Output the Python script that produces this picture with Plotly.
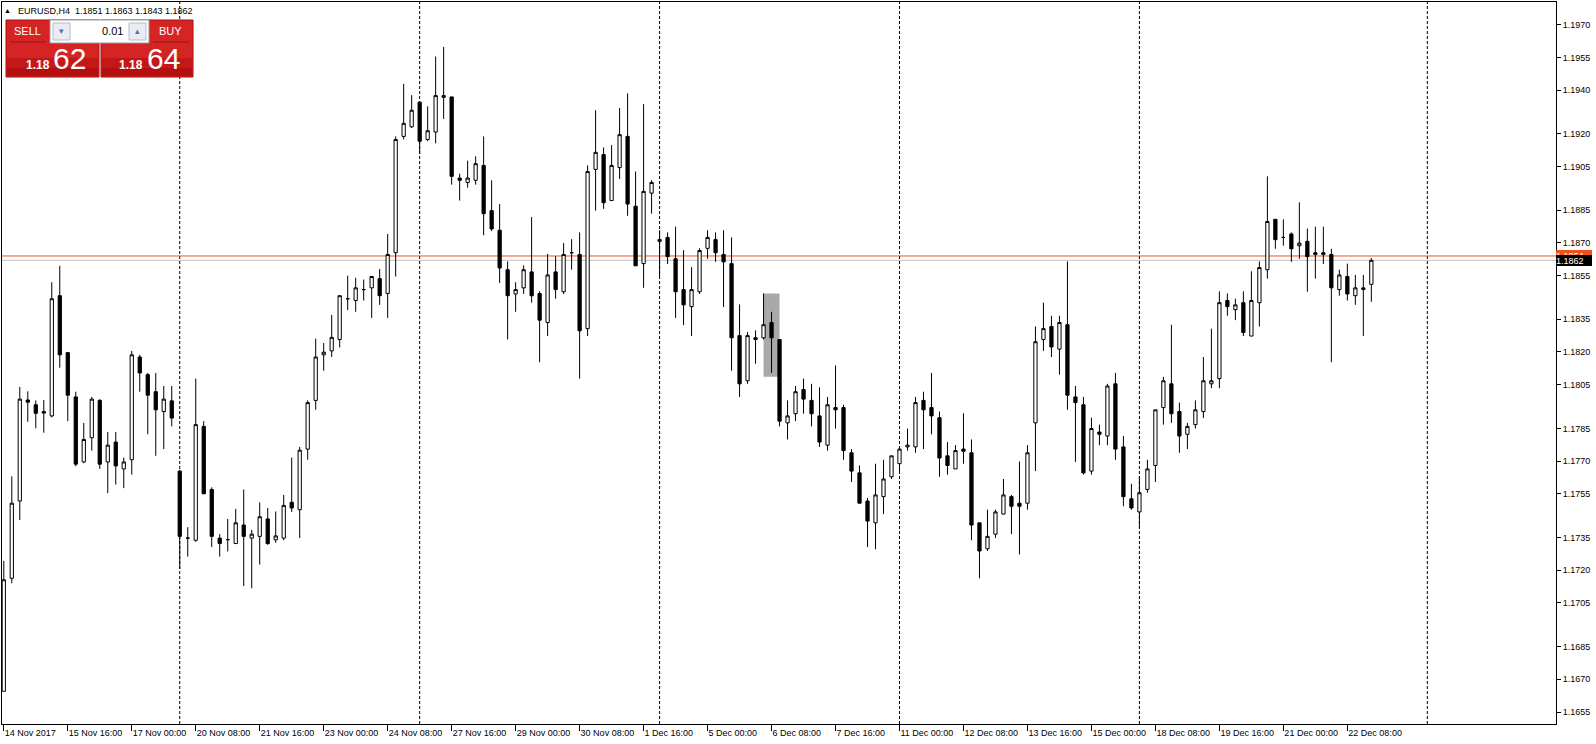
import plotly.graph_objects as go

# ---------------- data (EURUSD H4) ----------------
opens = [1.16645, 1.17163, 1.17517, 1.17980, 1.17958, 1.17927, 1.17907, 1.18458, 1.18197, 1.17994,
         1.17696, 1.17807, 1.17978, 1.17696, 1.17787, 1.17664, 1.17706, 1.18177, 1.18096, 1.18018,
         1.17927, 1.17976, 1.17654, 1.17347, 1.17337, 1.17859, 1.17570, 1.17347, 1.17340, 1.17322,
         1.17407, 1.17347, 1.17355, 1.17435, 1.17339, 1.17347, 1.17511, 1.17477, 1.17755, 1.17978,
         1.18187, 1.18205, 1.18257, 1.18444, 1.18436, 1.18486, 1.18494, 1.18536, 1.18468, 1.18655,
         1.19188, 1.19232, 1.19345, 1.19174, 1.19208, 1.19367, 1.19369, 1.18997, 1.18977, 1.18987,
         1.19055, 1.18848, 1.18758, 1.18577, 1.18466, 1.18494, 1.18567, 1.18468, 1.18335, 1.18567,
         1.18476, 1.18655, 1.18647, 1.18307, 1.19037, 1.19105, 1.18894, 1.19045, 1.19188, 1.18868,
         1.18605, 1.18928, 1.18707, 1.18725, 1.18627, 1.18486, 1.18408, 1.18476, 1.18675, 1.18715,
         1.18647, 1.18605, 1.18275, 1.18068, 1.18265, 1.18265, 1.18335, 1.18257, 1.17875, 1.17917,
         1.18028, 1.17978, 1.17907, 1.17773, 1.17945, 1.17945, 1.17738, 1.17646, 1.17517, 1.17417,
         1.17537, 1.17628, 1.17688, 1.17765, 1.17765, 1.17978, 1.17945, 1.17899, 1.17724, 1.17664,
         1.17755, 1.17738, 1.17417, 1.17298, 1.17365, 1.17457, 1.17537, 1.17507, 1.17507, 1.17875,
         1.18257, 1.18317, 1.18213, 1.18325, 1.17994, 1.17958, 1.17654, 1.17833, 1.17815, 1.18054,
         1.17765, 1.17527, 1.17467, 1.17570, 1.17680, 1.17945, 1.18054, 1.17927, 1.17823, 1.17867,
         1.17927, 1.18054, 1.18078, 1.18436, 1.18394, 1.18426, 1.18273, 1.18426, 1.18577, 1.18808,
         1.18725, 1.18741, 1.18687, 1.18707, 1.18647, 1.18647, 1.18647, 1.18486, 1.18546, 1.18458,
         1.18486, 1.18510]
highs = [1.17242, 1.17630, 1.18040, 1.18020, 1.17978, 1.17980, 1.18520, 1.18595, 1.18200, 1.18018,
         1.17875, 1.17994, 1.17984, 1.17833, 1.17833, 1.17716, 1.18205, 1.18187, 1.18104, 1.18104,
         1.18044, 1.18044, 1.17660, 1.17397, 1.18078, 1.17883, 1.17580, 1.17365, 1.17435, 1.17481,
         1.17570, 1.17385, 1.17511, 1.17485, 1.17469, 1.17545, 1.17716, 1.17765, 1.17978, 1.18261,
         1.18241, 1.18370, 1.18460, 1.18550, 1.18540, 1.18532, 1.18546, 1.18580, 1.18741, 1.19188,
         1.19429, 1.19377, 1.19345, 1.19326, 1.19554, 1.19598, 1.19369, 1.19017, 1.19077, 1.19097,
         1.19188, 1.18987, 1.18878, 1.18615, 1.18520, 1.18597, 1.18818, 1.18478, 1.18649, 1.18639,
         1.18699, 1.18717, 1.18748, 1.19055, 1.19308, 1.19137, 1.19148, 1.19318, 1.19385, 1.19027,
         1.19336, 1.18987, 1.18758, 1.18748, 1.18774, 1.18667, 1.18589, 1.18675, 1.18758, 1.18748,
         1.18758, 1.18725, 1.18418, 1.18291, 1.18299, 1.18468, 1.18384, 1.18257, 1.17978, 1.18044,
         1.18078, 1.18054, 1.18038, 1.17994, 1.18138, 1.17958, 1.17755, 1.17680, 1.17531, 1.17688,
         1.17706, 1.17724, 1.17765, 1.17849, 1.17994, 1.18018, 1.18104, 1.17927, 1.17787, 1.17773,
         1.17919, 1.17799, 1.17417, 1.17477, 1.17477, 1.17618, 1.17545, 1.17698, 1.17773, 1.18317,
         1.18426, 1.18366, 1.18366, 1.18615, 1.18044, 1.17994, 1.17899, 1.17867, 1.18054, 1.18104,
         1.17815, 1.17596, 1.17628, 1.17706, 1.17935, 1.18086, 1.18325, 1.17968, 1.17875, 1.17978,
         1.18177, 1.18307, 1.18478, 1.18468, 1.18444, 1.18478, 1.18570, 1.18615, 1.19005, 1.18808,
         1.18808, 1.18748, 1.18886, 1.18766, 1.18774, 1.18774, 1.18673, 1.18577, 1.18605, 1.18553,
         1.18553, 1.18630]
lows = [1.16645, 1.17140, 1.17430, 1.17880, 1.17850, 1.17830, 1.17900, 1.18128, 1.17883, 1.17676,
        1.17690, 1.17748, 1.17664, 1.17553, 1.17592, 1.17576, 1.17638, 1.18018, 1.17823, 1.17724,
        1.17755, 1.17859, 1.17206, 1.17262, 1.17330, 1.17550, 1.17306, 1.17262, 1.17286, 1.17320,
        1.17127, 1.17117, 1.17226, 1.17316, 1.17326, 1.17337, 1.17467, 1.17347, 1.17706, 1.17935,
        1.18114, 1.18177, 1.18221, 1.18392, 1.18384, 1.18436, 1.18356, 1.18416, 1.18356, 1.18546,
        1.19174, 1.19226, 1.19107, 1.19166, 1.19156, 1.19268, 1.18967, 1.18894, 1.18953, 1.18967,
        1.18735, 1.18754, 1.18516, 1.18257, 1.18384, 1.18466, 1.18426, 1.18153, 1.18273, 1.18444,
        1.18466, 1.18577, 1.18078, 1.18273, 1.18848, 1.18856, 1.18894, 1.18993, 1.18824, 1.18595,
        1.18494, 1.18834, 1.18546, 1.18603, 1.18356, 1.18323, 1.18273, 1.18466, 1.18627, 1.18613,
        1.18406, 1.18114, 1.17994, 1.18054, 1.18146, 1.18257, 1.18104, 1.17859, 1.17799, 1.17883,
        1.17917, 1.17859, 1.17765, 1.17748, 1.17849, 1.17706, 1.17604, 1.17507, 1.17306, 1.17296,
        1.17457, 1.17618, 1.17646, 1.17748, 1.17738, 1.17755, 1.17823, 1.17628, 1.17638, 1.17664,
        1.17688, 1.17337, 1.17163, 1.17288, 1.17347, 1.17457, 1.17365, 1.17272, 1.17477, 1.17654,
        1.18205, 1.18177, 1.18096, 1.17935, 1.17696, 1.17638, 1.17638, 1.17773, 1.17773, 1.17706,
        1.17493, 1.17477, 1.17397, 1.17555, 1.17604, 1.17867, 1.17875, 1.17738, 1.17755, 1.17849,
        1.17897, 1.18034, 1.18034, 1.18366, 1.18346, 1.18273, 1.18273, 1.18317, 1.18536, 1.18673,
        1.18687, 1.18613, 1.18627, 1.18476, 1.18536, 1.18603, 1.18153, 1.18458, 1.18436, 1.18416,
        1.18273, 1.18430]
closes = [1.17156, 1.17507, 1.17984, 1.17970, 1.17919, 1.17920, 1.18444, 1.18187, 1.18002, 1.17686,
          1.17799, 1.17984, 1.17686, 1.17773, 1.17678, 1.17696, 1.18187, 1.18104, 1.18002, 1.17935,
          1.17984, 1.17897, 1.17355, 1.17347, 1.17867, 1.17550, 1.17355, 1.17322, 1.17340, 1.17417,
          1.17355, 1.17365, 1.17445, 1.17322, 1.17357, 1.17497, 1.17485, 1.17750, 1.17968, 1.18177,
          1.18199, 1.18267, 1.18458, 1.18444, 1.18494, 1.18486, 1.18546, 1.18458, 1.18647, 1.19174,
          1.19248, 1.19308, 1.19166, 1.19214, 1.19375, 1.19375, 1.19005, 1.18987, 1.18997, 1.19063,
          1.18834, 1.18764, 1.18585, 1.18458, 1.18486, 1.18577, 1.18458, 1.18346, 1.18553, 1.18486,
          1.18647, 1.18655, 1.18297, 1.19027, 1.19115, 1.18884, 1.19055, 1.19196, 1.18878, 1.18595,
          1.18936, 1.18977, 1.18715, 1.18637, 1.18476, 1.18416, 1.18486, 1.18665, 1.18725, 1.18655,
          1.18613, 1.18265, 1.18054, 1.18275, 1.18257, 1.18325, 1.18265, 1.17883, 1.17907, 1.18018,
          1.17984, 1.17917, 1.17787, 1.17958, 1.17935, 1.17748, 1.17654, 1.17507, 1.17425, 1.17545,
          1.17618, 1.17724, 1.17755, 1.17773, 1.17968, 1.17935, 1.17907, 1.17714, 1.17680, 1.17748,
          1.17745, 1.17407, 1.17288, 1.17355, 1.17467, 1.17545, 1.17493, 1.17493, 1.17738, 1.18247,
          1.18307, 1.18223, 1.18335, 1.18002, 1.17968, 1.17646, 1.17849, 1.17823, 1.18044, 1.17755,
          1.17537, 1.17485, 1.17555, 1.17664, 1.17935, 1.18068, 1.17917, 1.17815, 1.17859, 1.17935,
          1.18068, 1.18068, 1.18426, 1.18408, 1.18416, 1.18289, 1.18436, 1.18587, 1.18798, 1.18715,
          1.18725, 1.18673, 1.18699, 1.18637, 1.18655, 1.18655, 1.18494, 1.18553, 1.18466, 1.18494,
          1.18494, 1.18620]
bars = list(range(len(opens)))

x_tick_bars = [0, 8, 16, 24, 32, 40, 48, 56, 64, 72, 80, 88, 96, 104, 112, 120, 128, 136, 144, 152, 160, 168]
x_tick_text = ["14 Nov 2017", "15 Nov 16:00", "17 Nov 00:00", "20 Nov 08:00", "21 Nov 16:00",
               "23 Nov 00:00", "24 Nov 08:00", "27 Nov 16:00", "29 Nov 00:00", "30 Nov 08:00",
               "1 Dec 16:00", "5 Dec 00:00", "6 Dec 08:00", "7 Dec 16:00", "11 Dec 00:00",
               "12 Dec 08:00", "13 Dec 16:00", "15 Dec 00:00", "18 Dec 08:00", "19 Dec 16:00",
               "21 Dec 00:00", "22 Dec 08:00"]
y_tick_vals = [1.1970, 1.1955, 1.1940, 1.1920, 1.1905, 1.1885, 1.1870, 1.1855, 1.1835, 1.1820,
               1.1805, 1.1785, 1.1770, 1.1755, 1.1735, 1.1720, 1.1705, 1.1685, 1.1670, 1.1655]
grid_bars = [22, 52, 82, 112, 142, 178]
ask_price = 1.1864
bid_price = 1.1862
rect_bars = [95, 97]
rect_prices = [1.18086, 1.18468]
header_text = "EURUSD,H4  1.1851 1.1863 1.1843 1.1862"
sell_big, buy_big, price_prefix, lot_text = "62", "64", "1.18", "0.01"

# ---------------- layout geometry ----------------
W, H = 1596, 744
ML, MT, MR, MB = 2, 2, 40, 20
PW, PH = W - ML - MR, H - MT - MB
FONT = "Liberation Sans, Arial, sans-serif"


def px(x):
    return (x - ML) / PW


def py(y):
    return (H - MB - y) / PH


fig = go.Figure()
fig.add_trace(go.Candlestick(
    x=bars, open=opens, high=highs, low=lows, close=closes,
    increasing=dict(line=dict(color="black", width=1), fillcolor="white"),
    decreasing=dict(line=dict(color="black", width=1), fillcolor="black"),
    whiskerwidth=0, hoverinfo="skip", showlegend=False,
))

shapes = []
# highlighted rectangle object
shapes.append(dict(type="rect", xref="x", yref="y", x0=rect_bars[0], x1=rect_bars[1],
                   y0=rect_prices[0], y1=rect_prices[1], fillcolor="#A9A9A9",
                   line=dict(width=0), layer="below"))
# vertical dashed grid
for gb in grid_bars:
    shapes.append(dict(type="line", xref="x", yref="paper", x0=gb, x1=gb, y0=0, y1=1,
                       line=dict(color="black", width=1, dash="3px,2px"), layer="below"))
# bid / ask lines
shapes.append(dict(type="line", xref="paper", yref="y", x0=0, x1=1, y0=bid_price, y1=bid_price,
                   line=dict(color="#C0C0C0", width=1), layer="below"))
shapes.append(dict(type="line", xref="paper", yref="y", x0=0, x1=1, y0=ask_price, y1=ask_price,
                   line=dict(color="#F05020", width=1), layer="below"))


def rect(x0, y0, x1, y1, fill, line=None, lw=1):
    shapes.append(dict(type="rect", xref="paper", yref="paper", x0=px(x0), x1=px(x1),
                       y0=py(y1), y1=py(y0), fillcolor=fill,
                       line=dict(color=line or fill, width=lw if line else 0)))


def hline(x0, x1, y, color):
    shapes.append(dict(type="line", xref="paper", yref="paper", x0=px(x0), x1=px(x1),
                       y0=py(y), y1=py(y), line=dict(color=color, width=1)))


# one-click trading panel
for (a, b) in [(6, 99), (101, 193)]:
    rect(a, 20, b, 77, "#D42424", "#A80C0C")
    rect(a + 1, 58, b - 1, 68, "#C41818")
    rect(a + 1, 68, b - 1, 76, "#B40E0E")
rect(50, 20, 149, 43, "white", "#9A9A9A")
rect(53, 23, 70, 40, "#E9EDF3", "#B5BDC9")
rect(129, 23, 146, 40, "#E9EDF3", "#B5BDC9")
hline(10, 46, 42, "#9E1010")
hline(153, 189, 42, "#9E1010")

annotations = []


def text(x, y, s, size, color="black", anchor="center", bold=False):
    annotations.append(dict(xref="paper", yref="paper", x=px(x), y=py(y), text=("<b>%s</b>" % s) if bold else s,
                            showarrow=False, xanchor=anchor, yanchor="middle",
                            font=dict(family=FONT, size=size, color=color)))


text(7, 11, "▲", 7)
text(16, 11, header_text, 9, anchor="left")
text(27, 31, "SELL", 11, "white")
text(170, 31, "BUY", 11, "white")
text(61, 31, "▾", 9, "#5A73A0")
text(137, 31, "▴", 9, "#5A73A0")
text(125, 31, lot_text, 11, anchor="right")
text(38, 65, price_prefix, 12, "white", bold=True)
text(69, 58, sell_big, 30, "white")
text(131, 65, price_prefix, 12, "white", bold=True)
text(163, 58, buy_big, 30, "white")

# axis price labels (ask drawn first, bid covers it)
for pr, col in [(ask_price, "#F05020"), (bid_price, "black")]:
    annotations.append(dict(xref="paper", yref="y", x=px(1556), y=pr, text="%.4f" % pr, showarrow=False,
                            xanchor="left", yanchor="middle", align="left",
                            width=36, height=11, bgcolor=col, borderpad=0, borderwidth=0,
                            font=dict(family=FONT, size=9, color="white")))

fig.update_layout(
    width=W, height=H,
    margin=dict(l=ML, r=MR, t=MT, b=MB, autoexpand=False),
    paper_bgcolor="white", plot_bgcolor="white",
    boxgap=0.42,
    shapes=shapes, annotations=annotations,
    xaxis=dict(range=[-0.225, 194.09], rangeslider=dict(visible=False), showgrid=False, zeroline=False,
               showline=True, mirror=True, linecolor="black", linewidth=1,
               tickmode="array", tickvals=x_tick_bars, ticktext=x_tick_text,
               ticks="outside", ticklen=6, tickcolor="black", ticklabelposition="outside right",
               tickfont=dict(family=FONT, size=9, color="black"), fixedrange=True),
    yaxis=dict(range=[1.16495, 1.19804], side="right", showgrid=False, zeroline=False,
               showline=True, mirror=True, linecolor="black", linewidth=1,
               tickmode="array", tickvals=y_tick_vals, ticktext=["%.4f" % v for v in y_tick_vals],
               ticks="outside", ticklen=4, tickcolor="black",
               tickfont=dict(family=FONT, size=9, color="black"), fixedrange=True),
)

fig.write_html("out.html", config=dict(displayModeBar=False))
